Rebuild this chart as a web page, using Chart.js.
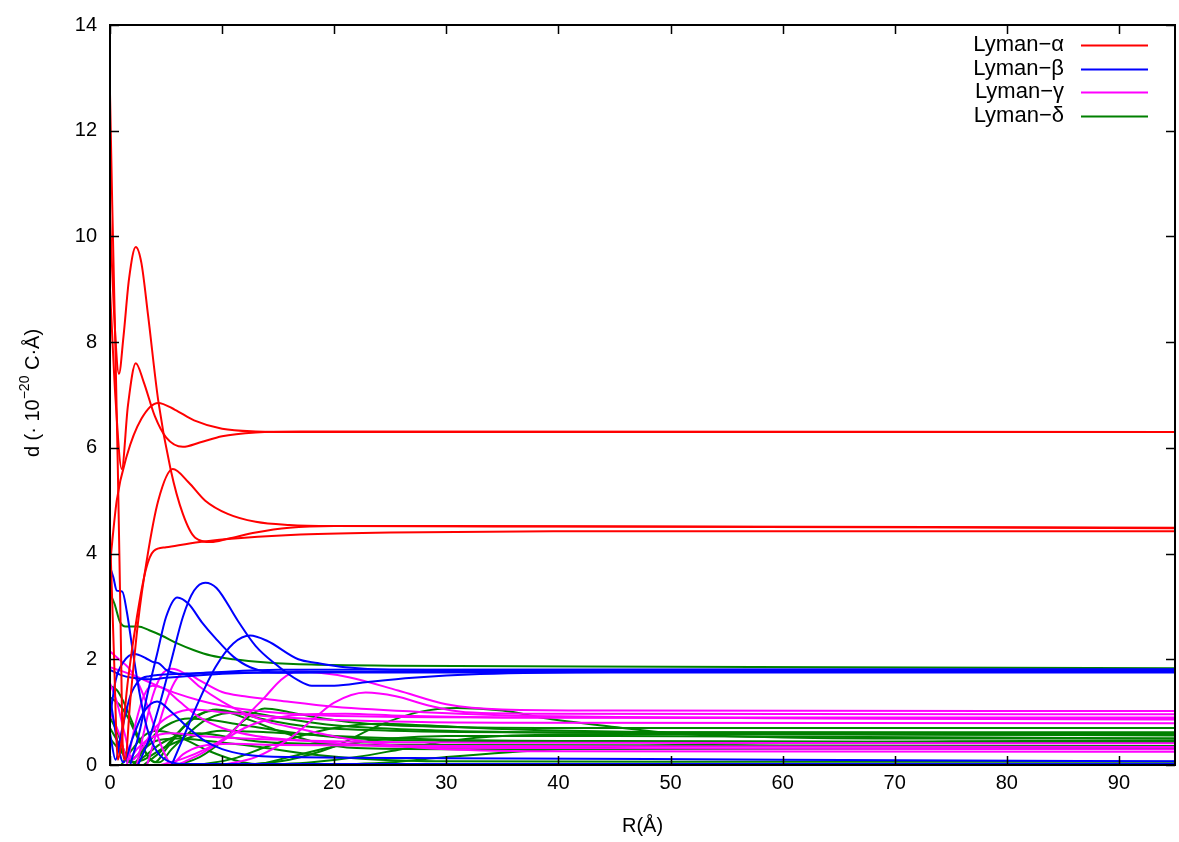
<!DOCTYPE html>
<html>
<head>
<meta charset="utf-8">
<script src="https://cdn.jsdelivr.net/npm/chart.js@4.4.0/dist/chart.umd.min.js"></script>
<style>
  html, body { margin: 0; padding: 0; background: #fff; }
  canvas { display: block; }
</style>
</head>
<body>
<canvas id="dipoleChart" width="1179" height="842"></canvas>
<script>
// dipole moment curves d(R), one array of [R, d] pairs per curve
var alpha1 = [[0,12.7],[0.2,10.6],[0.45,8.2],[0.7,5.6],[0.95,2.6],[1.15,0.3],[1.35,0.1],[1.8,1.2],[2.5,2.7],[3.3,3.9],[4.3,5.0],[5.6,5.6],[7,5.35],[8.5,5.0],[10.5,4.75],[13,4.6],[16,4.54],[20,4.52],[40,4.51],[95,4.48]];
var alpha2 = [[0,10.4],[0.4,8.4],[0.8,7.4],[1.2,8.1],[1.7,9.2],[2.3,9.8],[2.8,9.5],[3.4,8.5],[4.3,6.9],[5.4,5.6],[6.5,4.75],[7.6,4.3],[9,4.22],[10.5,4.28],[13,4.4],[16,4.49],[20,4.52],[30,4.52],[95,4.49]];
var alpha3 = [[0,9.0],[0.5,6.9],[1.05,5.6],[1.6,6.8],[2.3,7.6],[3,7.25],[4,6.6],[5,6.2],[6.5,6.02],[8,6.1],[10,6.22],[13,6.29],[17,6.31],[95,6.3]];
var alpha4 = [[0,3.8],[0.6,5.0],[1.5,5.85],[2.8,6.55],[4.3,6.85],[5.8,6.72],[7.5,6.52],[10,6.36],[13,6.31],[17,6.3],[95,6.3]];
var alpha5 = [[0,4.4],[0.35,2.1],[0.7,0.1],[1.0,0.4],[1.6,1.6],[2.4,2.8],[3.2,3.7],[3.9,4.05],[5,4.12],[8,4.22],[12,4.3],[17,4.36],[25,4.4],[40,4.42],[95,4.42]];

var beta1 = [[0,3.75],[0.3,3.55],[0.6,3.3],[1.1,3.28],[1.5,2.9],[2,2.2],[2.6,1.4],[3.3,0.7],[4.2,0.25],[5.5,0.05],[7,0.02],[20,0.02],[95,0.02]];
var beta2 = [[2.5,0],[3.5,0.5],[4.5,1.2],[5.5,2.0],[6.5,2.8],[7.5,3.3],[8.5,3.45],[9.5,3.35],[11.4,2.73],[13,2.25],[14.7,1.92],[16.8,1.6],[18,1.5],[20,1.5],[23,1.57],[27,1.65],[33,1.72],[45,1.76],[95,1.77]];
var beta3 = [[1.8,0],[2.6,0.6],[3.4,1.4],[4.2,2.1],[5,2.8],[6,3.17],[7,3.05],[8.2,2.7],[9.4,2.4],[11,2.05],[12.5,1.85],[15,1.75],[20,1.76],[95,1.78]];
var beta4 = [[5.5,0],[6.5,0.5],[7.9,1.2],[9.4,1.85],[11,2.3],[12.5,2.45],[14,2.35],[16.8,2.0],[18.5,1.93],[21,1.85],[25,1.8],[35,1.79],[95,1.8]];
var beta5 = [[0,0.9],[0.5,1.6],[1.2,1.95],[2.2,2.1],[3.2,2.02],[3.8,1.95],[4.4,1.92],[5,1.8],[6.5,1.72],[9,1.75],[15,1.8],[95,1.81]];
var beta6 = [[0,1.8],[1,1.7],[2,1.65],[3.5,1.62],[5,1.65],[8,1.7],[12,1.74],[20,1.76],[95,1.76]];
var beta7 = [[0,0.6],[0.5,0.1],[1,0.6],[1.8,1.3],[2.6,1.6],[3.5,1.68],[6,1.72],[10,1.75],[95,1.75]];
var beta8 = [[0,1.3],[0.6,0.5],[1.2,0.05],[2,0.5],[3,1.0],[4.2,1.2],[5.5,1.0],[7,0.7],[8.5,0.45],[10,0.3],[12,0.2],[16,0.15],[30,0.13],[60,0.1],[95,0.07]];

var gamma1 = [[0,2.15],[0.8,2.0],[1.6,1.85],[2.4,1.6],[3.2,1.2],[4,0.7],[4.8,0.25],[5.5,0.02],[6.5,0.2],[8,0.35],[11,0.4],[15,0.38],[30,0.36],[95,0.34]];
var gamma2 = [[0,1.85],[1,1.78],[2.5,1.66],[4,1.52],[6,1.35],[8,1.22],[10,1.12],[12.5,1.04],[16,0.97],[22,0.92],[35,0.9],[95,0.9]];
var gamma3 = [[2.4,0],[3,0.6],[3.8,1.3],[4.6,1.7],[5.5,1.82],[6.5,1.75],[8,1.48],[10,1.2],[12,0.98],[14,0.82],[17,0.68],[21,0.5],[25,0.38],[30,0.3],[40,0.26],[95,0.25]];
var gamma4 = [[4.5,0],[6.5,0.12],[8.5,0.3],[10.8,0.6],[12.3,0.95],[13.8,1.28],[15.2,1.6],[16.6,1.77],[18.5,1.75],[21.3,1.66],[25.7,1.41],[30,1.15],[35,1.05],[45,1.03],[95,1.02]];
var gamma5 = [[10,0],[13,0.15],[16,0.5],[18.3,0.9],[20,1.18],[22.8,1.37],[25.5,1.3],[28.5,1.12],[31.7,1.0],[40,0.97],[95,0.96]];
var gamma6 = [[3.3,0],[4,0.5],[5,1.2],[6,1.65],[6.8,1.73],[8,1.6],[10,1.38],[12,1.3],[15,1.22],[20,1.1],[28,1.0],[40,0.92],[95,0.86]];
var gamma7 = [[0,1.55],[0.6,1.2],[1.3,0.6],[2,0.1],[2.8,0.3],[4,0.7],[5.5,0.95],[7.5,1.05],[10,1.0],[14,0.92],[20,0.85],[35,0.8],[95,0.79]];
var gamma8 = [[0,1.0],[0.8,0.6],[1.6,0.1],[2.4,0.3],[3.5,0.5],[5.5,0.6],[8,0.55],[12,0.5],[20,0.45],[40,0.42],[95,0.41]];
var gamma9 = [[1.5,0],[2.3,0.8],[3,1.3],[3.8,1.5],[4.8,1.45],[6.2,1.2],[8,0.9],[10,0.7],[13,0.55],[18,0.45],[25,0.35],[40,0.32],[95,0.3]];
var gamma10 = [[6,0],[8,0.2],[10,0.45],[12,0.7],[14,0.85],[17,0.95],[21,0.97],[26,0.93],[35,0.9],[95,0.88]];

var delta1 = [[0,3.25],[0.4,3.05],[0.9,2.7],[1.4,2.62],[2.5,2.62],[3.5,2.55],[4.6,2.45],[6,2.3],[7.5,2.17],[9,2.07],[11,2.0],[14,1.94],[18,1.9],[25,1.88],[50,1.86],[95,1.83]];
var delta2 = [[0,1.5],[0.6,1.42],[1.2,1.2],[2,0.8],[2.8,0.4],[3.6,0.1],[4.4,0.05],[5.5,0.3],[7,0.6],[8.5,0.85],[10,0.97],[12,1.0],[15,0.9],[20,0.75],[30,0.65],[50,0.6],[95,0.56]];
var delta3 = [[0,1.28],[0.8,1.15],[1.6,0.9],[2.5,0.5],[3.3,0.2],[4,0.05],[5,0.3],[6.5,0.7],[8,0.95],[9.5,1.05],[11,1.0],[14,0.85],[18,0.72],[25,0.65],[40,0.62],[95,0.62]];
var delta4 = [[6,0],[8,0.15],[10,0.45],[12,0.85],[13.8,1.07],[16,1.0],[19,0.88],[23,0.78],[30,0.72],[45,0.7],[95,0.7]];
var delta5 = [[12,0],[16,0.1],[20,0.35],[24,0.75],[27.5,1.0],[31,1.08],[35,1.03],[39,0.88],[45,0.72],[50,0.6],[60,0.52],[75,0.5],[95,0.5]];
var delta6 = [[0,0.9],[0.7,0.6],[1.4,0.2],[2.2,0.05],[3,0.3],[4.2,0.62],[5.5,0.8],[7,0.88],[9,0.85],[12,0.75],[16,0.62],[22,0.5],[35,0.45],[95,0.43]];
var delta7 = [[1,0],[2,0.3],[3,0.55],[4.2,0.65],[5.5,0.6],[7,0.45],[9,0.25],[11,0.1],[13,0.02],[16,0.15],[20,0.35],[25,0.5],[30,0.55],[45,0.55],[95,0.5]];
var delta8 = [[3,0],[4.5,0.25],[6,0.6],[7.5,0.9],[9,1.02],[10.5,1.0],[12.5,0.85],[15,0.65],[18,0.45],[22,0.32],[30,0.3],[95,0.32]];
var delta9 = [[8,0],[11,0.12],[14,0.35],[17,0.55],[20,0.7],[24,0.78],[28,0.75],[35,0.68],[50,0.62],[95,0.6]];
var delta10 = [[0,0.7],[0.8,0.4],[1.6,0.05],[2.5,0.2],[4,0.45],[6,0.5],[9,0.45],[13,0.35],[18,0.2],[24,0.1],[30,0.07],[50,0.06],[95,0.06]];
var delta11 = [[14,0],[18,0.05],[22,0.15],[26,0.3],[30,0.45],[35,0.55],[45,0.58],[95,0.57]];
var delta12 = [[0,0.5],[1,0.25],[2,0.05],[3,0.1],[5,0.35],[7.5,0.55],[10,0.65],[14,0.62],[20,0.55],[30,0.48],[50,0.45],[95,0.43]];
var delta13 = [[2,0],[3,0.15],[4.5,0.4],[6,0.55],[8,0.6],[10,0.55],[13,0.45],[18,0.4],[30,0.38],[95,0.36]];
var delta14 = [[20,0],[25,0.05],[30,0.15],[40,0.3],[55,0.4],[75,0.45],[95,0.46]];

var seriesNames = ['Lyman\u2212\u03b1', 'Lyman\u2212\u03b2', 'Lyman\u2212\u03b3', 'Lyman\u2212\u03b4'];
var seriesColors = ['#ff0000', '#0000ff', '#ff00ff', '#008000'];
var seriesCurves = [
    [alpha1, alpha2, alpha3, alpha4, alpha5],
    [beta1, beta2, beta3, beta4, beta5, beta6, beta7, beta8],
    [gamma1, gamma2, gamma3, gamma4, gamma5, gamma6, gamma7, gamma8, gamma9, gamma10],
    [delta1, delta2, delta3, delta4, delta5, delta6, delta7, delta8, delta9, delta10, delta11, delta12, delta13, delta14]
];
var xTicks = [0, 10, 20, 30, 40, 50, 60, 70, 80, 90];
var yTicks = [0, 2, 4, 6, 8, 10, 12, 14];

var FONT = '"Liberation Sans", Arial, sans-serif';

var datasets = [];
for (var s = 0; s < seriesCurves.length; s++) {
    for (var c = 0; c < seriesCurves[s].length; c++) {
        datasets.push({
            label: seriesNames[s],
            data: seriesCurves[s][c].map(function (p) { return {x: p[0], y: p[1]}; }),
            borderColor: seriesColors[s],
            borderWidth: 2,
            pointRadius: 0,
            fill: false,
            cubicInterpolationMode: 'monotone'
        });
    }
}

// gnuplot style frame, inward ticks, axis titles and key
var framePlugin = {
    id: 'frame',
    afterDraw: function (chart) {
        var ctx = chart.ctx;
        var a = chart.chartArea;
        var xs = chart.scales.x, ys = chart.scales.y;
        ctx.save();
        ctx.strokeStyle = '#000';
        ctx.lineWidth = 2;
        ctx.strokeRect(a.left, a.top, a.right - a.left, a.bottom - a.top);
        ctx.lineWidth = 1.5;
        ctx.beginPath();
        xTicks.forEach(function (v) {
            var px = Math.round(xs.getPixelForValue(v)) + 0.5;
            ctx.moveTo(px, a.bottom); ctx.lineTo(px, a.bottom - 9);
            ctx.moveTo(px, a.top); ctx.lineTo(px, a.top + 9);
        });
        yTicks.forEach(function (v) {
            var py = Math.round(ys.getPixelForValue(v)) + 0.5;
            ctx.moveTo(a.left, py); ctx.lineTo(a.left + 9, py);
            ctx.moveTo(a.right, py); ctx.lineTo(a.right - 9, py);
        });
        ctx.stroke();

        // x title
        ctx.fillStyle = '#000';
        ctx.font = '20px ' + FONT;
        ctx.textAlign = 'center';
        ctx.textBaseline = 'middle';
        ctx.fillText('R(\u00c5)', (a.left + a.right) / 2, 826);

        // y title with superscript exponent
        ctx.translate(33, 393);
        ctx.rotate(-Math.PI / 2);
        var p1 = 'd (\u00b7 10', sup = '\u221220', p2 = ' C\u00b7\u00c5)';
        ctx.font = '20px ' + FONT;
        var w1 = ctx.measureText(p1).width, w3 = ctx.measureText(p2).width;
        ctx.font = '14px ' + FONT;
        var w2 = ctx.measureText(sup).width;
        var x0 = -(w1 + w2 + w3) / 2;
        ctx.textAlign = 'left';
        ctx.textBaseline = 'middle';
        ctx.font = '20px ' + FONT;
        ctx.fillText(p1, x0, 0);
        ctx.font = '14px ' + FONT;
        ctx.fillText(sup, x0 + w1, -8);
        ctx.font = '20px ' + FONT;
        ctx.fillText(p2, x0 + w1 + w2, 0);
        ctx.restore();

        // key
        ctx.save();
        ctx.font = '22px ' + FONT;
        ctx.textAlign = 'right';
        ctx.textBaseline = 'middle';
        for (var i = 0; i < seriesNames.length; i++) {
            var ky = 45 + i * 23.5;
            ctx.fillStyle = '#000';
            ctx.fillText(seriesNames[i], 1064, ky);
            ctx.strokeStyle = seriesColors[i];
            ctx.lineWidth = 2;
            ctx.beginPath();
            ctx.moveTo(1081, Math.round(ky) + 0.5);
            ctx.lineTo(1148, Math.round(ky) + 0.5);
            ctx.stroke();
        }
        ctx.restore();
    }
};

var ctx = document.getElementById('dipoleChart');
var myChart = new Chart(ctx, {
    type: 'line',
    data: { datasets: datasets },
    options: {
        responsive: false,
        animation: false,
        devicePixelRatio: 1,
        layout: { padding: { top: 22, right: 4, left: 0, bottom: 0 } },
        plugins: { legend: { display: false }, tooltip: { enabled: false } },
        scales: {
            x: {
                type: 'linear',
                min: 0, max: 95,
                afterFit: function (scale) { scale.height = 77; },
                afterBuildTicks: function (scale) { scale.ticks = xTicks.map(function (v) { return {value: v}; }); },
                grid: { display: false, drawTicks: false },
                border: { display: false },
                ticks: { color: '#000', font: { family: FONT, size: 20 }, padding: 6, maxRotation: 0 }
            },
            y: {
                type: 'linear',
                min: 0, max: 14,
                afterFit: function (scale) { scale.width = 110; },
                afterBuildTicks: function (scale) { scale.ticks = yTicks.map(function (v) { return {value: v}; }); },
                grid: { display: false, drawTicks: false },
                border: { display: false },
                ticks: { color: '#000', font: { family: FONT, size: 20 }, padding: 13 }
            }
        }
    },
    plugins: [framePlugin]
});
</script>
</body>
</html>
